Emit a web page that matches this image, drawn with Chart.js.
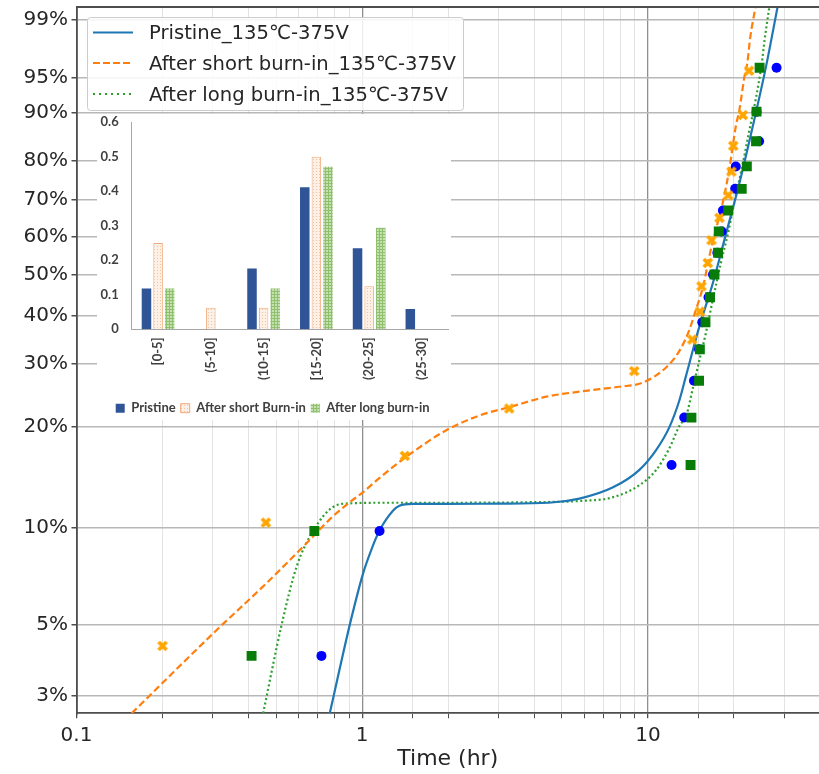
<!DOCTYPE html>
<html>
<head>
<meta charset="utf-8">
<script src="https://cdn.jsdelivr.net/npm/chart.js@4.4.1/dist/chart.umd.min.js"></script>
<style>
  html, body { margin: 0; padding: 0; background: #fff; }
  #wrap { position: relative; width: 819px; height: 774px; overflow: hidden; }
  #main { position: absolute; left: 0; top: 0; }
  #legend { position: absolute; left: 87px; top: 17px; }
  #insetBox { position: absolute; left: 97px; top: 114px; width: 354px; height: 306px; background: #fff; }
</style>
</head>
<body>
<div id="wrap">
  <canvas id="main" width="819" height="774"></canvas>
  <svg id="legend" width="378" height="95" xmlns="http://www.w3.org/2000/svg">
    <rect x="0.5" y="0.5" width="376" height="93" rx="3" ry="3" fill="rgba(255,255,255,0.85)" stroke="#cccccc" stroke-width="1"/>
    <line x1="6" y1="15.5" x2="46" y2="15.5" stroke="#1f77b4" stroke-width="2.2"/>
    <line x1="6" y1="46" x2="46" y2="46" stroke="#ff7f0e" stroke-width="2.2" stroke-dasharray="7,3"/>
    <line x1="6" y1="77" x2="46" y2="77" stroke="#2ca02c" stroke-width="2.2" stroke-dasharray="2,4"/>
    <g font-family="DejaVu Sans" font-size="19.6" fill="#262626" dominant-baseline="central">
      <text id="lg0" x="62" y="15.5"></text>
      <text id="lg1" x="62" y="46"></text>
      <text id="lg2" x="62" y="77"></text>
    </g>
  </svg>
  <div id="insetBox"><canvas id="inset" width="354" height="306"></canvas></div>
</div>
<script>
// ---- series names ----
const seriesNames = ['Pristine_135℃-375V', 'After short burn-in_135℃-375V', 'After long burn-in_135℃-375V'];

// ---- axis ticks ----
const probTicks = [3, 5, 10, 20, 30, 40, 50, 60, 70, 80, 90, 95, 99];   // unreliability, %
const timeLabelTicks = [0.1, 1, 10];                                      // hours

// ---- failure times (hr) and median-rank unreliability (%) ----
const pristineTime = [0.72, 1.15, 12.1, 13.4, 14.5, 15.1, 15.5, 16.3, 16.9, 17.5, 18.1, 18.3, 20.2, 20.3, 24.5, 24.0, 28.2];
const pristineProb = [4.0, 9.8, 15.5, 21.3, 27.0, 32.8, 38.5, 44.3, 50.0, 55.7, 61.5, 67.2, 73.0, 78.7, 84.5, 90.2, 96.0];

const shortTime = [0.20, 0.46, 1.41, 3.27, 8.96, 14.3, 15.2, 15.4, 16.2, 16.7, 17.8, 19.1, 19.6, 19.9, 21.5, 22.6];
const shortProb = [4.3, 10.4, 16.5, 22.6, 28.7, 34.8, 40.9, 47.0, 53.0, 59.1, 65.2, 71.3, 77.4, 83.5, 89.6, 95.7];

const longTime = [0.41, 0.68, 14.1, 14.2, 15.1, 15.2, 15.9, 16.5, 17.1, 17.6, 17.7, 19.1, 21.3, 22.2, 23.9, 24.0, 24.6];
const longProb = [4.0, 9.8, 15.5, 21.3, 27.0, 32.8, 38.5, 44.3, 50.0, 55.7, 61.5, 67.2, 73.0, 78.7, 84.5, 90.2, 96.0];

// ---- fitted mixture CDF curves (hr, %) ----
const pristineFitTime = [0.77, 0.834, 0.904, 1.006, 1.077, 1.151, 1.281, 1.35, 1.5, 2, 3, 4.5, 5.76, 7.55, 9.34, 10.68, 11.89, 12.89, 13.6, 15.14, 16.86, 18.77, 20.89, 23.25, 25.9, 28.43];
const pristineFitProb = [2.63, 3.64, 5.0, 7.23, 8.6, 9.85, 11.3, 11.7, 11.85, 11.85, 11.88, 11.95, 12.3, 13.3, 15.0, 17.15, 20.0, 23.85, 27.9, 37.6, 47.7, 60.9, 74.4, 87.4, 96.1, 99.36];

const shortFitTime = [0.156, 0.309, 0.462, 0.638, 0.79, 0.904, 1.0, 1.151, 1.428, 1.97, 2.574, 3.27, 4.41, 5.76, 6.77, 7.95, 9.6, 11.6, 12.89, 13.9, 14.7, 15.6, 16.6, 17.5, 18.3, 19.3, 20.3, 20.9, 21.8, 22.3, 22.8, 23.8];
const shortFitProb = [2.63, 4.82, 6.76, 8.99, 10.87, 11.99, 12.8, 14.2, 16.4, 19.6, 21.6, 22.8, 24.4, 25.2, 25.6, 26.0, 26.7, 29.4, 32.5, 36.5, 41.2, 47.0, 56.5, 63.5, 69.5, 78.3, 87.5, 90.5, 95.2, 96.5, 98.2, 99.36];

const longFitTime = [0.45, 0.522, 0.589, 0.673, 0.79, 0.904, 1.2, 2, 4, 5.8, 7.5, 9.34, 10.7, 11.9, 12.9, 13.6, 14.4, 15.14, 16.0, 16.86, 18.0, 19.06, 20.2, 21.37, 22.6, 23.8, 25.0, 25.6, 26.6];
const longFitProb = [2.63, 5.0, 7.6, 9.8, 11.6, 11.9, 11.95, 11.95, 12.0, 12.1, 12.4, 13.5, 15.0, 17.4, 20.2, 21.5, 26.0, 30.7, 36.5, 43.6, 53.0, 60.9, 70.5, 78.6, 86.5, 92.0, 96.3, 98.07, 99.36];

// ---- inset histogram: share of failures per time bin ----
const binLabels = ['[0-5]', '(5-10]', '(10-15]', '[15-20]', '(20-25]', '(25-30]'];
const pristineShare = [0.118, 0, 0.176, 0.412, 0.235, 0.059];
const shortShare = [0.25, 0.0625, 0.0625, 0.5, 0.125, 0];
const longShare = [0.118, 0, 0.118, 0.471, 0.294, 0];
const insetNames = ['Pristine', 'After short Burn-in', 'After long burn-in'];

seriesNames.forEach((n, i) => { document.getElementById('lg' + i).textContent = n; });

// ---- Weibull probability scale: linear in ln(-ln(1-F)) ----
const weib = p => Math.log(-Math.log(1 - p / 100));
class WeibullScale extends Chart.Scale {
  static id = 'weibull';
  static defaults = {};
  parse(raw) { return raw == null ? null : +raw; }
  determineDataLimits() {
    this.min = this.options.min;
    this.max = this.options.max;
  }
  buildTicks() {
    const vals = this.options.ticks.values || [];
    const out = [];
    for (let i = 0; i < vals.length; i++) {
      if (vals[i] >= this.min && vals[i] <= this.max) out.push({ value: vals[i] });
    }
    return out;
  }
  configure() {
    super.configure();
    this._wLo = weib(this.min);
    this._wHi = weib(this.max);
  }
  getLabelForValue(v) { return v + '%'; }
  getPixelForValue(v) {
    return this.getPixelForDecimal((weib(v) - this._wLo) / (this._wHi - this._wLo));
  }
  getValueForPixel(px) {
    const w = this._wLo + this.getDecimalForPixel(px) * (this._wHi - this._wLo);
    return 100 * (1 - Math.exp(-Math.exp(w)));
  }
}
Chart.register(WeibullScale);

const toPoints = (ts, ps) => ts.map((t, i) => ({ x: t, y: ps[i] }));
const isDecade = v => Math.abs(Math.log10(v) - Math.round(Math.log10(v))) < 1e-6;

// filled "X" marker
function xMarker(color) {
  const c = document.createElement('canvas');
  c.width = 12; c.height = 12;
  const g = c.getContext('2d');
  g.strokeStyle = color; g.lineWidth = 3.8; g.lineCap = 'butt';
  g.beginPath();
  g.moveTo(2, 2); g.lineTo(10, 10);
  g.moveTo(10, 2); g.lineTo(2, 10);
  g.stroke();
  return c;
}

// frame line along the top of the plot
const frameTop = {
  id: 'frameTop',
  afterDraw(chart) {
    const { ctx, chartArea } = chart;
    ctx.save();
    ctx.strokeStyle = '#4d4d4d';
    ctx.lineWidth = 1.8;
    ctx.beginPath();
    ctx.moveTo(chartArea.left, chartArea.top);
    ctx.lineTo(chartArea.right, chartArea.top);
    ctx.stroke();
    ctx.restore();
  }
};

const fitCommon = { pointRadius: 0, fill: false, cubicInterpolationMode: 'monotone', borderWidth: 2.2 };

new Chart(document.getElementById('main'), {
  type: 'line',
  data: {
    datasets: [
      { label: seriesNames[2] + ' data', data: toPoints(longTime, longProb), showLine: false,
        pointStyle: 'rect', pointRadius: 7, pointBackgroundColor: '#077d07', pointBorderWidth: 0, order: 1 },
      { label: seriesNames[1] + ' data', data: toPoints(shortTime, shortProb), showLine: false,
        pointStyle: xMarker('#ffa500'), pointRadius: 5, order: 2 },
      { label: seriesNames[0] + ' data', data: toPoints(pristineTime, pristineProb), showLine: false,
        pointStyle: 'circle', pointRadius: 5, pointBackgroundColor: '#0000ff', pointBorderWidth: 0, order: 3 },
      Object.assign({ label: seriesNames[0], data: toPoints(pristineFitTime, pristineFitProb),
        borderColor: '#1f77b4', order: 4 }, fitCommon),
      Object.assign({ label: seriesNames[1], data: toPoints(shortFitTime, shortFitProb),
        borderColor: '#ff7f0e', borderDash: [7, 3.5], order: 5 }, fitCommon),
      Object.assign({ label: seriesNames[2], data: toPoints(longFitTime, longFitProb),
        borderColor: '#2ca02c', borderDash: [2, 2.6], order: 6 }, fitCommon)
    ]
  },
  options: {
    responsive: false,
    animation: false,
    events: [],
    layout: { autoPadding: false, padding: { left: 0, top: 7, right: 0, bottom: 0 } },
    plugins: { legend: { display: false }, tooltip: { enabled: false } },
    scales: {
      x: {
        type: 'logarithmic', min: 0.1, max: 39.7, position: 'bottom',
        border: { color: '#4d4d4d', width: 1.8 },
        grid: {
          color: c => isDecade(c.tick.value) ? '#8f8f8f' : '#e3e3e3',
          lineWidth: c => isDecade(c.tick.value) ? 1.3 : 1,
          tickLength: 5, tickColor: '#4d4d4d'
        },
        ticks: {
          autoSkip: false, maxRotation: 0, minRotation: 0, padding: 5, color: '#262626',
          font: { family: 'DejaVu Sans', size: 20 },
          callback: v => {
            const lab = timeLabelTicks.find(d => Math.abs(Math.log10(v) - Math.log10(d)) < 1e-6);
            return lab === undefined ? '' : String(lab);
          }
        },
        title: { display: true, text: 'Time (hr)', color: '#262626',
          font: { family: 'DejaVu Sans', size: 22 }, padding: { top: 0, bottom: 2 } },
        afterFit: s => { s.height = 60.7; s.paddingLeft = 0; s.paddingRight = 0; }
      },
      y: {
        type: 'weibull', min: 2.63, max: 99.36, position: 'left',
        border: { color: '#4d4d4d', width: 1.8 },
        grid: { color: '#b8b8b8', lineWidth: 1.5, tickLength: 5, tickColor: '#4d4d4d' },
        ticks: {
          values: probTicks, padding: 3.5, color: '#262626',
          font: { family: 'DejaVu Sans', size: 20 },
          callback: v => v + '%'
        },
        afterFit: s => { s.width = 76.5; s.paddingTop = 0; s.paddingBottom = 0; }
      }
    }
  },
  plugins: [frameTop]
});

// ---- inset bar fills ----
function dotPattern() {
  const c = document.createElement('canvas');
  c.width = 3; c.height = 3;
  const g = c.getContext('2d');
  g.fillStyle = '#fdf0e6'; g.fillRect(0, 0, 3, 3);
  g.fillStyle = '#efc4a4'; g.fillRect(0, 0, 1, 1);
  return g.createPattern(c, 'repeat');
}
function gridPattern() {
  const c = document.createElement('canvas');
  c.width = 3; c.height = 3;
  const g = c.getContext('2d');
  g.fillStyle = '#c6e0b2'; g.fillRect(0, 0, 3, 3);
  g.fillStyle = '#8fc06e'; g.fillRect(0, 0, 3, 1); g.fillRect(0, 0, 1, 3);
  return g.createPattern(c, 'repeat');
}

const insetFont = { family: 'Lato', weight: 'bold', size: 13 };
new Chart(document.getElementById('inset'), {
  type: 'bar',
  data: {
    labels: binLabels,
    datasets: [
      { label: insetNames[0], data: pristineShare, backgroundColor: '#2f5597', borderWidth: 0 },
      { label: insetNames[1], data: shortShare, backgroundColor: dotPattern(), borderColor: '#f0a878', borderWidth: 1 },
      { label: insetNames[2], data: longShare, backgroundColor: gridPattern(), borderWidth: 0 }
    ]
  },
  options: {
    responsive: false,
    animation: false,
    events: [],
    layout: { autoPadding: false, padding: { left: 0, top: 8.3, right: 2.7, bottom: -4.7 } },
    datasets: { bar: { categoryPercentage: 0.66, barPercentage: 0.82 } },
    plugins: {
      tooltip: { enabled: false },
      legend: {
        position: 'bottom',
        labels: { boxWidth: 9, boxHeight: 9, padding: 5, color: '#404040', font: insetFont }
      }
    },
    scales: {
      x: {
        grid: { display: false, drawTicks: false },
        border: { color: '#a6a6a6', width: 1 },
        ticks: { minRotation: 90, maxRotation: 90, padding: 8, color: '#404040', font: insetFont },
        afterFit: s => { s.height = 67.4; s.paddingLeft = 0; s.paddingRight = 0; }
      },
      y: {
        min: 0, max: 0.6,
        grid: { display: false, drawTicks: false },
        border: { color: '#a6a6a6', width: 1 },
        ticks: { stepSize: 0.1, padding: 13, color: '#404040', font: insetFont },
        afterFit: s => { s.width = 34.7; s.paddingTop = 0; s.paddingBottom = 0; }
      }
    }
  }
});
</script>
</body>
</html>
